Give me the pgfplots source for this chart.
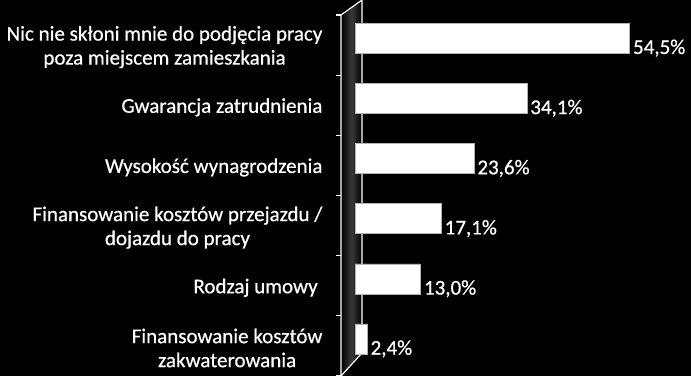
\documentclass[border=0pt]{standalone}
\usepackage{fontspec}
\setmainfont{Carlito}
\newfontfamily\labfont{Carlito}[FakeBold=0.6]
\usepackage{pgfplots}
\pgfplotsset{compat=1.18}
\begin{document}
\begin{tikzpicture}[x=1pt,y=1pt]
\useasboundingbox (0,0) rectangle (691,376);
\fill[black] (0,0) rectangle (691,376);
\shade[left color=black, right color=black, middle color=gray!45!black] (341,0) -- (341,361) -- (362,376) -- (362,23) -- cycle;
\draw[white, line width=1.2pt] (341,0) -- (341,361) -- (362,376) -- (362,23) -- cycle;
\begin{axis}[
  at={(341pt,0pt)}, anchor=south west,
  scale only axis, width=350pt, height=361pt,
  xmin=-2.78, xmax=66.7, ymin=-0.5, ymax=5.5,
  y dir=reverse,
  axis line style={draw=none},
  xtick=\empty,
  ytick={0,...,5},
  yticklabels={{Nic nie skłoni mnie do podjęcia pracy\\poza miejscem zamieszkania},
               {Gwarancja zatrudnienia},
               {Wysokość wynagrodzenia},
               {Finansowanie kosztów przejazdu /\\dojazdu do pracy},
               {Rodzaj umowy\ },
               {Finansowanie kosztów\\zakwaterowania}},
  yticklabel style={align=center, text=white, font=\labfont\fontsize{21}{24}\selectfont, xshift=-15pt, yshift=-2pt},
  ytick pos=left,
  major tick length=0pt,
  extra y ticks={-0.5,0.5,1.5,2.5,3.5,4.5,5.5},
  extra y tick labels={},
  extra y tick style={major tick length=5pt, tick align=outside, tick style={white, line width=1.2pt}},
]
\addplot[xbar, bar width=30pt, bar shift=7pt, fill=white, draw=gray!60,
  point meta=x,
  nodes near coords={\pgfmathprintnumber[assume math mode=true,use comma,fixed,fixed zerofill,precision=1]{\pgfplotspointmeta}\%},
  nodes near coords style={anchor=west, text=white, font=\labfont\fontsize{21}{24}\selectfont, xshift=0pt, yshift=-3pt}]
  coordinates {(54.5,0) (34.1,1) (23.6,2) (17.1,3) (13.0,4) (2.4,5)};
\end{axis}
\end{tikzpicture}
\end{document}
